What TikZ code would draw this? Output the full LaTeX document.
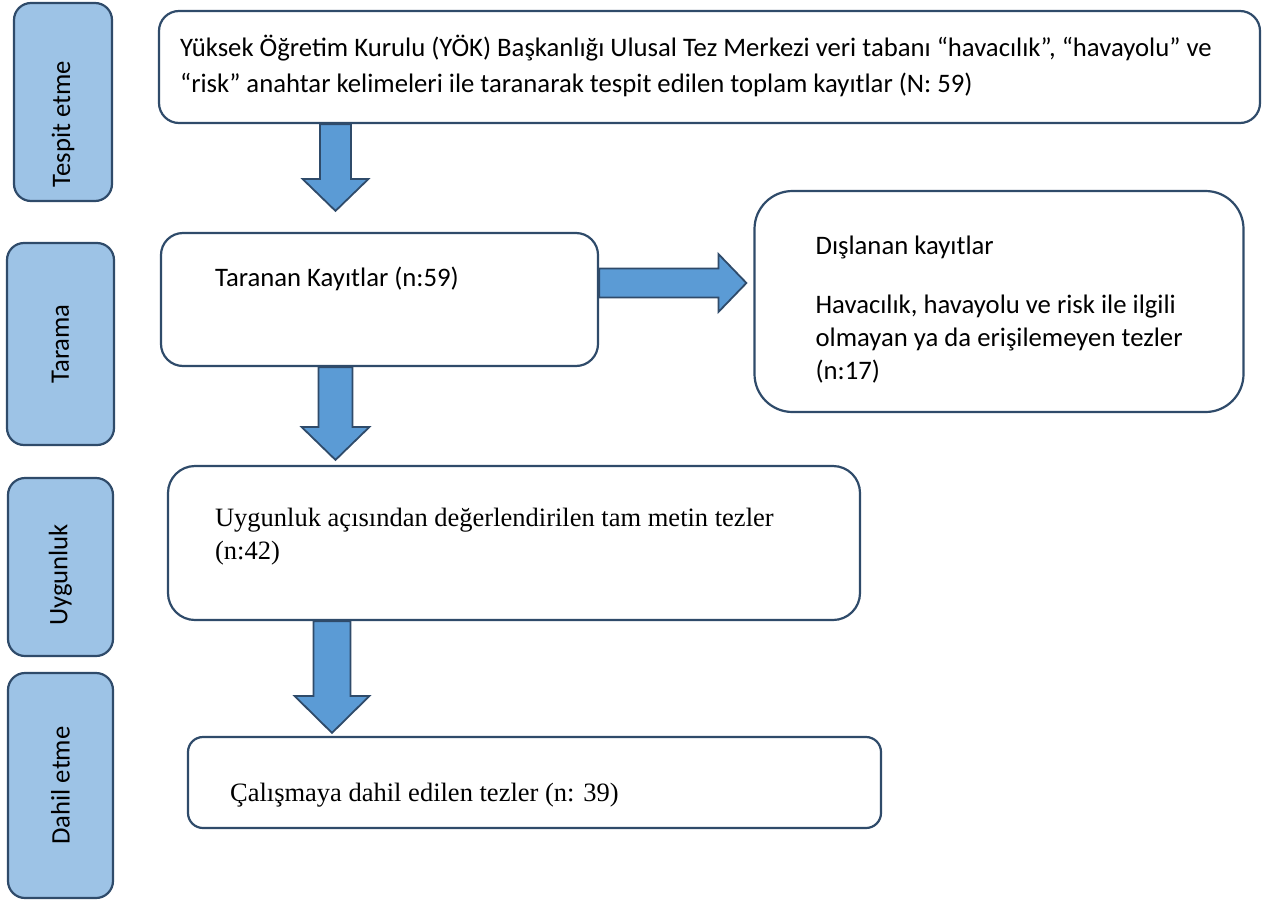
\documentclass[tikz,border=0pt]{standalone}
\usepackage{fontspec}
\setmainfont{Carlito}
\newfontfamily\timesfont{Liberation Serif}
\usetikzlibrary{calc}
\definecolor{FrameBlue}{HTML}{2F4B6A}
\definecolor{PhaseBlue}{HTML}{9DC3E6}
\definecolor{ArrowBlue}{HTML}{5B9BD5}

% block arrows: from, tip, shaft half width, head half width, head length
\newcommand{\downblock}[5]{%
  \path[blockarr] let \p1=(#1), \p2=(#2) in
    ({\x2-#3},\y1) -- ({\x2+#3},\y1) -- ({\x2+#3},{\y2+#5}) -- ({\x2+#4},{\y2+#5})
    -- (\x2,\y2) -- ({\x2-#4},{\y2+#5}) -- ({\x2-#3},{\y2+#5}) -- cycle;}
\newcommand{\rightblock}[5]{%
  \path[blockarr] let \p1=(#1), \p2=(#2) in
    (\x1,{\y2+#3}) -- ({\x2-#5},{\y2+#3}) -- ({\x2-#5},{\y2+#4}) -- (\x2,\y2)
    -- ({\x2-#5},{\y2-#4}) -- ({\x2-#5},{\y2-#3}) -- (\x1,{\y2-#3}) -- cycle;}

\begin{document}
\begin{tikzpicture}[x=1pt, y=-1pt,
    every node/.style={font=\fontsize{26.7}{33}\selectfont},
    phase/.style={draw=FrameBlue, fill=PhaseBlue, line width=2.2pt,
                  rounded corners=17pt, rotate=90, inner sep=0pt},
    frame/.style={draw=FrameBlue, fill=white, line width=2.2pt, inner sep=0pt},
    txt/.style={anchor=base west, align=left, inner sep=0pt},
    serif/.style={txt, font=\timesfont\fontsize{26.5}{33}\selectfont},
    blockarr/.style={draw=FrameBlue, fill=ArrowBlue, line width=1.8pt},
]
\useasboundingbox (0,0) rectangle (1266,905);

%% Phase labels (left column)
\node[phase, minimum width=198pt, minimum height=98pt]  (tespit) at (63,102)    {Tespit etme\hspace*{44pt}};
\node[phase, minimum width=202pt, minimum height=107pt] (tarama) at (60.5,344)  {Tarama};
\node[phase, minimum width=178pt, minimum height=105pt] (uygunl) at (60.5,567)  {Uygunluk\hspace*{16pt}};
\node[phase, minimum width=225pt, minimum height=105pt] (dahilp) at (60.5,785.5){Dahil etme};

%% Boxes
\node[frame, rounded corners=20pt, minimum width=1101pt, minimum height=112pt] (kayit) at (709.5,67)   {};
\node[frame, rounded corners=22pt, minimum width=437pt,  minimum height=133pt] (tara)  at (379.5,299.5) {};
\node[frame, rounded corners=38pt, minimum width=489pt,  minimum height=221pt] (disla) at (999,301.5) {};
\node[frame, rounded corners=27pt, minimum width=692pt,  minimum height=154pt] (uygun) at (514,543)    {};
\node[frame, rounded corners=15pt, minimum width=693pt,  minimum height=91pt]  (dahil) at (534.5,782.5) {};

%% Texts (base = last line)
\node[txt] (kayit-t) at ($(kayit.north west)+(22,83)$)
  {Yüksek Öğretim Kurulu (YÖK) Başkanlığı Ulusal Tez Merkezi veri tabanı “havacılık”, “havayolu” ve\\[3pt]
   “risk” anahtar kelimeleri ile taranarak tespit edilen toplam kayıtlar (N: 59)};
\node[txt] (tara-t) at ($(tara.north west)+(55,55)$) {Taranan Kayıtlar (n:59)};
\node[txt] (disla-t) at ($(disla.north west)+(62,190)$)
  {Dışlanan kayıtlar\\[26pt]
   Havacılık, havayolu ve risk ile ilgili\\
   olmayan ya da erişilemeyen tezler\\
   (n:17)};
\node[serif] (uygun-t) at ($(uygun.north west)+(48,95)$)
  {Uygunluk açısından değerlendirilen tam metin tezler\\(n:42)};
\node[serif] (dahil-t) at ($(dahil.north west)+(43,66)$) {Çalışmaya dahil edilen tezler (n: 39)};

%% Block arrows
\coordinate (col)  at (335.5,0);
\coordinate (col2) at (332,0);
\coordinate (row)  at (0,283);
\downblock{kayit.south -| col}{$(tara.north -| col)+(0,-21)$}{15.5pt}{33pt}{32pt}
\downblock{tara.south -| col}{$(uygun.north -| col)+(0,-5)$}{17pt}{34pt}{33pt}
\downblock{uygun.south -| col2}{$(dahil.north -| col2)+(0,-3)$}{18.5pt}{37.5pt}{37pt}
\rightblock{tara.east |- row}{$(disla.west |- row)+(-7,0)$}{14.5pt}{29pt}{28pt}

\end{tikzpicture}
\end{document}
